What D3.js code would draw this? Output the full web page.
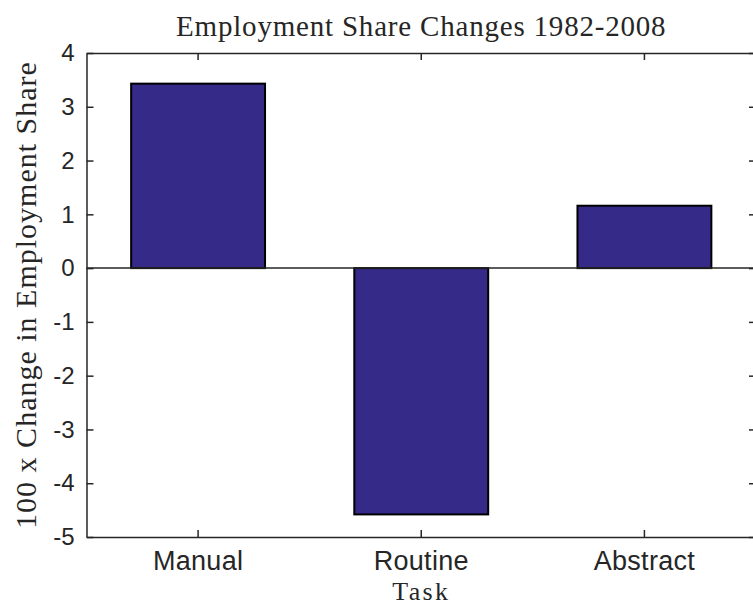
<!DOCTYPE html>
<html>
<head>
<meta charset="utf-8">
<script src="https://cdn.jsdelivr.net/npm/d3@7"></script>
<style>
  body { margin: 0; background: #fff; }
  svg { display: block; }
  .tick text { font-family: "Liberation Sans", Arial, sans-serif; fill: #262626; }
  .x-axis .tick text { font-size: 27px; letter-spacing: 0.3px; }
  .y-axis .tick text { font-size: 24px; }
  .axisText { font-family: "Liberation Serif", serif; font-size: 30px; fill: #262626; letter-spacing: 1px; }
  .titleText { font-size: 29px; letter-spacing: 0.8px; }
  .taskText { font-size: 26px; letter-spacing: 2.3px; }
</style>
</head>
<body>
<div id="svg-container"></div>
<script>
// data
const tasks = ["Manual", "Routine", "Abstract"];
const shareChange = [3.43, -4.58, 1.16];
const yTicks = [-5, -4, -3, -2, -1, 0, 1, 2, 3, 4];

const width = 753;
const height = 606;
// right edge of the box sits just past the window, like the original
const margin = { top: 53, right: -3, bottom: 69, left: 86.5 };

const svg = d3.select("#svg-container").append("svg")
  .attr("width", width).attr("height", height);

const xScale = d3.scaleBand()
  .domain(tasks)
  .range([margin.left, width - margin.right])
  .paddingInner(0.4)
  .paddingOuter(0.2);
const yScale = d3.scaleLinear().domain([-5, 4]).range([height - margin.bottom, margin.top]);

const axisColor = "#262626";
const tickLen = 7;

// bars
svg.selectAll(".bar")
  .data(tasks)
  .enter()
  .append("rect")
  .attr("class", "bar")
  .attr("x", (d) => xScale(d))
  .attr("width", xScale.bandwidth())
  .attr("y", (d, i) => yScale(Math.max(0, shareChange[i])))
  .attr("height", (d, i) => Math.abs(yScale(shareChange[i]) - yScale(0)))
  .attr("fill", "#352a87")
  .attr("stroke", "#000")
  .attr("stroke-width", 2);

// zero baseline
svg.append("line")
  .attr("x1", margin.left).attr("x2", width - margin.right)
  .attr("y1", yScale(0)).attr("y2", yScale(0))
  .attr("stroke", axisColor).attr("stroke-width", 1.5);

// axes (matlab style: ticks inside, hyphen minus)
const xAxis = d3.axisBottom(xScale).tickSizeInner(-tickLen).tickSizeOuter(0).tickPadding(14);
const xAxisTop = d3.axisTop(xScale).tickSizeInner(-tickLen).tickSizeOuter(0).tickFormat("");
const yAxis = d3.axisLeft(yScale).tickValues(yTicks).tickSizeInner(-tickLen).tickSizeOuter(0)
  .tickPadding(12).tickFormat((d) => String(d));
const yAxisRight = d3.axisRight(yScale).tickValues(yTicks).tickSizeInner(-tickLen).tickSizeOuter(0).tickFormat("");

function styleAxis(g) {
  g.selectAll("path").attr("stroke", axisColor).attr("stroke-width", 1.5);
  g.selectAll("line").attr("stroke", axisColor).attr("stroke-width", 1.5);
}

svg.append("g").attr("class", "x-axis")
  .attr("transform", `translate(0, ${height - margin.bottom})`)
  .call(xAxis).call(styleAxis);
svg.append("g")
  .attr("transform", `translate(0, ${margin.top})`)
  .call(xAxisTop).call(styleAxis);
svg.append("g").attr("class", "y-axis")
  .attr("transform", `translate(${margin.left}, 0)`)
  .call(yAxis).call(styleAxis);
svg.append("g")
  .attr("transform", `translate(${width - margin.right}, 0)`)
  .call(yAxisRight).call(styleAxis);

// titles
const cx = (margin.left + width - margin.right) / 2;
svg.append("text").attr("class", "axisText titleText")
  .attr("x", cx).attr("y", 36).attr("text-anchor", "middle")
  .text("Employment Share Changes 1982-2008");
svg.append("text").attr("class", "axisText taskText")
  .attr("x", cx).attr("y", 600).attr("text-anchor", "middle")
  .text("Task");
svg.append("text").attr("class", "axisText")
  .attr("transform", `translate(36, ${(margin.top + height - margin.bottom) / 2}) rotate(-90)`)
  .attr("text-anchor", "middle")
  .text("100 x Change in Employment Share");
</script>
</body>
</html>
